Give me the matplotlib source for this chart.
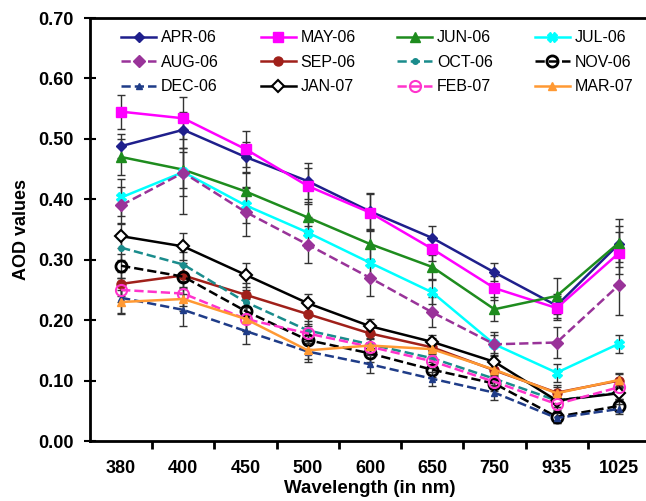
import matplotlib
matplotlib.use("Agg")
import matplotlib.pyplot as plt
import numpy as np

plt.rcParams['font.family'] = ['Liberation Sans', 'DejaVu Sans']

wavelengths = ["380", "400", "450", "500", "600", "650", "750", "935", "1025"]

months = ["APR-06", "MAY-06", "JUN-06", "JUL-06", "AUG-06", "SEP-06",
          "OCT-06", "NOV-06", "DEC-06", "JAN-07", "FEB-07", "MAR-07"]

apr06 = [0.488, 0.515, 0.470, 0.430, 0.380, 0.336, 0.279, 0.224, 0.326]
may06 = [0.545, 0.534, 0.483, 0.422, 0.378, 0.318, 0.253, 0.220, 0.311]
jun06 = [0.470, 0.449, 0.413, 0.370, 0.326, 0.288, 0.218, 0.240, 0.328]
jul06 = [0.403, 0.445, 0.390, 0.345, 0.295, 0.246, 0.160, 0.113, 0.161]
aug06 = [0.390, 0.444, 0.379, 0.325, 0.270, 0.213, 0.160, 0.163, 0.258]
sep06 = [0.260, 0.274, 0.242, 0.210, 0.178, 0.155, 0.117, 0.080, 0.100]
oct06 = [0.320, 0.292, 0.230, 0.183, 0.160, 0.137, 0.103, 0.067, 0.080]
nov06 = [0.290, 0.272, 0.215, 0.167, 0.145, 0.118, 0.095, 0.040, 0.058]
dec06 = [0.237, 0.217, 0.182, 0.148, 0.127, 0.103, 0.080, 0.038, 0.053]
jan07 = [0.339, 0.322, 0.275, 0.228, 0.190, 0.164, 0.131, 0.067, 0.079]
feb07 = [0.250, 0.244, 0.202, 0.178, 0.156, 0.132, 0.098, 0.061, 0.089]
mar07 = [0.230, 0.235, 0.202, 0.150, 0.158, 0.152, 0.118, 0.079, 0.101]

err_apr = [0.020, 0.030, 0.025, 0.030, 0.030, 0.020, 0.015, 0.020, 0.030]
err_may = [0.028, 0.035, 0.030, 0.030, 0.030, 0.020, 0.020, 0.020, 0.035]
err_jun = [0.030, 0.030, 0.030, 0.025, 0.025, 0.020, 0.020, 0.030, 0.040]
err_jul = [0.030, 0.040, 0.030, 0.025, 0.025, 0.020, 0.015, 0.015, 0.015]
err_aug = [0.030, 0.068, 0.040, 0.030, 0.030, 0.025, 0.020, 0.025, 0.050]
err_sep = [0.020, 0.020, 0.020, 0.020, 0.015, 0.015, 0.012, 0.012, 0.012]
err_oct = [0.020, 0.020, 0.020, 0.015, 0.015, 0.012, 0.012, 0.010, 0.010]
err_nov = [0.020, 0.020, 0.020, 0.015, 0.015, 0.012, 0.012, 0.010, 0.010]
err_dec = [0.025, 0.027, 0.022, 0.018, 0.015, 0.012, 0.012, 0.008, 0.008]
err_jan = [0.020, 0.023, 0.020, 0.015, 0.012, 0.012, 0.012, 0.010, 0.010]
err_feb = [0.020, 0.020, 0.020, 0.015, 0.012, 0.012, 0.012, 0.010, 0.010]
err_mar = [0.020, 0.020, 0.020, 0.015, 0.012, 0.012, 0.012, 0.010, 0.010]

series = [apr06, may06, jun06, jul06, aug06, sep06, oct06, nov06, dec06, jan07, feb07, mar07]
errors = [err_apr, err_may, err_jun, err_jul, err_aug, err_sep, err_oct, err_nov,
          err_dec, err_jan, err_feb, err_mar]

styles = [
    dict(color='#1F1F8C', ls='-', marker='D', ms=5, mfc='#1F1F8C', mec='#1F1F8C'),
    dict(color='#FF00FF', ls='-', marker='s', ms=7, mfc='#FF00FF', mec='#FF00FF'),
    dict(color='#1E8C1E', ls='-', marker='^', ms=7, mfc='#1E8C1E', mec='#1E8C1E'),
    dict(color='#00FFFF', ls='-', marker='X', ms=7, mfc='#00FFFF', mec='#00FFFF'),
    dict(color='#993399', ls='--', marker='D', ms=6, mfc='#993399', mec='#993399'),
    dict(color='#A0201A', ls='-', marker='o', ms=6.5, mfc='#A0201A', mec='#A0201A'),
    dict(color='#1A8C8C', ls='--', marker='o', ms=4, mfc='#1A8C8C', mec='#1A8C8C'),
    dict(color='black', ls='--', marker='o', ms=8, mfc='none', mec='black', mew=2),
    dict(color='#1F3C88', ls='--', marker='^', ms=5, mfc='#1F3C88', mec='#1F3C88'),
    dict(color='black', ls='-', marker='D', ms=6, mfc='white', mec='black', mew=1.5),
    dict(color='#FF33CC', ls='--', marker='o', ms=8, mfc='none', mec='#FF33CC', mew=1.5),
    dict(color='#FF9933', ls='-', marker='^', ms=6, mfc='#FF9933', mec='#FF9933'),
]

fig = plt.figure(figsize=(6.46, 5.01), dpi=100)
ax = fig.add_axes([90/646, (501-441)/501, 560/646, (441-18)/501])

x = np.arange(len(wavelengths))
for vals, errs in zip(series, errors):
    ax.errorbar(x, vals, yerr=errs, fmt='none', ecolor='#333333', elinewidth=1,
                capsize=3, capthick=1, zorder=1)
handles = []
for vals, name, st in zip(series, months, styles):
    h, = ax.plot(x, vals, lw=1.8, label=name, zorder=3, **st)
    handles.append(h)

ax.set_xlim(-0.5, len(wavelengths) - 0.5)
ax.set_ylim(0, 0.70)
ax.set_yticks(np.arange(0, 0.71, 0.1))
ax.set_yticklabels([f"{v:.2f}" for v in np.arange(0, 0.71, 0.1)],
                   fontsize=13, fontweight='bold')
ax.set_xticks(x)
ax.set_xticklabels(wavelengths, fontsize=13, fontweight='bold')
ax.set_xticks(np.arange(0.5, len(wavelengths) - 0.5, 1), minor=True)
ax.tick_params(axis='x', which='major', length=0, pad=14)
ax.tick_params(axis='x', which='minor', length=6, width=2, direction='out')
ax.tick_params(axis='y', which='major', length=8, width=1.5, direction='inout', pad=8)

for sp in ax.spines.values():
    sp.set_linewidth(2)

ax.set_ylabel("AOD values", fontsize=13, fontweight='bold', labelpad=6)
ax.set_xlabel("Wavelength (in nm)", fontsize=13.5, fontweight='bold', labelpad=2)

ncol = 4
nrow = 3
order = [r * ncol + c for c in range(ncol) for r in range(nrow)]
leg = ax.legend([handles[i] for i in order], [months[i] for i in order],
                ncol=ncol, loc='upper left', bbox_to_anchor=(0.03, 1.005), frameon=False,
                fontsize=11.5, handlelength=2.2, columnspacing=2.6, handletextpad=0.3,
                labelspacing=0.6)

fig.savefig("out.png", dpi=100)
